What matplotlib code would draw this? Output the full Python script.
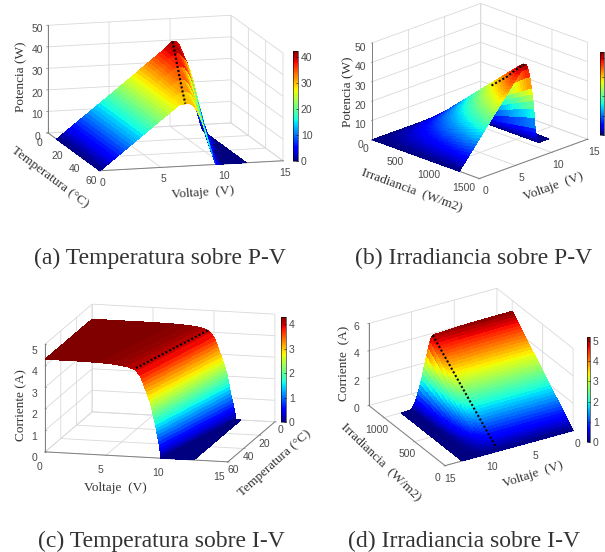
# solar panel surfaces, temperature and irradiance over P-V and I-V
import numpy as np
import matplotlib as mp
mp.use('Agg')
import matplotlib.pyplot as plt
from matplotlib.cm import ScalarMappable
from matplotlib.colors import Normalize

W, H = 605, 552

## (a) P-V against temperature, the rising part is the same for all rows
v_low = [0, .25, .5, .75, 1, 1.25, 1.5, 1.75, 2, 2.25, 2.5, 2.75, 3, 3.25, 3.5, 3.75, 4, 4.25, 4.5, 4.75, 5, 5.25, 5.5, 5.75, 6, 6.25, 6.5]
p_low = [0, 1.1, 2.2, 3.3, 4.4, 5.5, 6.6, 7.7, 8.8, 9.9, 11, 12.1, 13.2, 14.3, 15.4, 16.5, 17.6, 18.7, 19.8, 20.9, 22, 23.1, 24.2, 25.3, 26.4, 27.5, 28.6]
v_knee = [6.75, 7, 7.25, 7.5, 7.75, 8, 8.25, 8.5, 8.75, 9, 9.25, 9.5, 9.75, 10, 10.25, 10.5, 10.75, 11, 11.25, 11.5, 11.75, 12]
p_t10 = [29.9, 31, 32.1, 33.2, 34.3, 35.4, 36.5, 37.6, 38.8, 40.2, 41.6, 42.5, 42.3, 41, 38, 34, 28.5, 22, 15.5, 9, 4, 0]
p_t20 = [29.8, 30.9, 32, 33, 34, 35, 36, 37.2, 38.4, 39.3, 39.7, 38.5, 37, 35, 31, 26, 20.5, 14, 8.5, 3, 0, 0]
p_t30 = [29.6, 30.6, 31.6, 32.6, 33.6, 34.6, 35.6, 36.5, 36.6, 35.8, 34, 31, 27.5, 23, 18, 13, 7.5, 2, 0, 0, 0, 0]
p_t40 = [29.2, 30.2, 31.2, 32.2, 33, 33.5, 33.5, 32.5, 30.3, 27, 23.5, 19, 14.5, 9, 4.5, 0, 0, 0, 0, 0, 0, 0]
p_t50 = [28.9, 29.8, 30.5, 31, 31.1, 30.5, 28.7, 26, 22.8, 19, 15, 10, 5, 0, 0, 0, 0, 0, 0, 0, 0, 0]
p_t60 = [28.5, 29, 29, 28.6, 27.3, 25, 22, 18, 13.5, 8, 4, 0, 0, 0, 0, 0, 0, 0, 0, 0, 0, 0]
t_a = [10, 20, 30, 40, 50, 60]
mpp_v_a = [9.5, 9, 8.5, 8, 7.5, 7]
mpp_p_a = [42.5, 39.5, 36.5, 33.5, 31, 29]

## (b) P-V against irradiance
v_b = [0, .25, .5, .75, 1, 1.25, 1.5, 1.75, 2, 2.25, 2.5, 2.75, 3, 3.25, 3.5, 3.75, 4, 4.25, 4.5, 4.75, 5, 5.25, 5.5, 5.75, 6, 6.25, 6.5, 6.75, 7, 7.25, 7.5, 7.75, 8, 8.25, 8.5, 8.75, 9,
       9.25, 9.5, 9.75, 10, 10.1, 10.2, 10.3, 10.4, 10.5, 10.6, 10.7, 10.8, 10.9, 11, 11.5, 12, 12.4]
p_b = [0, 1.2, 2.4, 3.5, 4.7, 5.9, 7.1, 8.2, 9.4, 10.6, 11.8, 12.9, 14.1, 15.3, 16.5, 17.6, 18.8, 20, 21.2, 22.3, 23.5, 24.7, 25.9, 27, 28.2, 29.4, 30.6, 31.7, 32.9, 34.1, 35.3, 36.4, 37.6, 38.8, 40, 41.6, 43,
       42.4, 40, 35.5, 29, 26, 22.5, 18.5, 13.5, 8, 5.5, 3.5, 2, .8, 0, 0, 0, 0]
g_b = [0, 30, 60, 90, 120, 150, 180, 210, 240, 270, 300, 330, 360, 390, 420, 450, 480, 510, 540, 570, 600, 630, 660, 690, 720, 750, 780, 810, 840, 870, 900, 930, 960, 990, 1020, 1050, 1080, 1110, 1140, 1170, 1220]
mpp_v_b = [8.6, 8.7, 8.8, 8.9, 9]
mpp_g_b = [800, 900, 1000, 1100, 1220]
mpp_p_b = [27, 30.5, 34, 38.5, 43]

# share of the full row value at each irradiance row, (b) and (d)
frac_rows = [0, .025, .05, .075, .1, .125, .15, .175, .2, .225, .25, .275, .3, .325, .35, .375, .4, .425, .45, .475, .5, .525, .55, .575, .6, .625, .65, .675, .7, .725, .75, .775, .8, .825, .85, .875, .9, .925, .95, .975, 1]

## (c) I-V against temperature, one voltage pair for each current level
i_c = [4.3, 4.3, 4.28, 4.25, 4.2, 4.15, 4.07, 3.95, 3.8, 3.65, 3.5, 3.35, 3.2, 3.05, 2.9, 2.75, 2.6, 2.45, 2.3, 2.15, 2, 1.85, 1.7, 1.55, 1.4, 1.25, 1.1, .95, .8, .65, .5, .35, .2, .1, 0, 0]
v_t0 = [0, 5, 7, 8, 8.7, 9.1, 9.5, 9.75, 9.95, 10.1, 10.2, 10.3, 10.4, 10.5, 10.6, 10.7, 10.8, 10.87, 10.95, 11.02, 11.1, 11.15, 11.2, 11.25, 11.3, 11.35, 11.4, 11.47, 11.55, 11.6, 11.65, 11.7, 11.75, 11.78, 11.8, 12.2]
v_t60 = [0, 3, 4.5, 5.5, 6.3, 6.8, 7.3, 7.55, 7.75, 7.9, 8, 8.1, 8.2, 8.3, 8.4, 8.5, 8.6, 8.68, 8.75, 8.8, 8.85, 8.92, 9, 9.05, 9.1, 9.15, 9.2, 9.25, 9.3, 9.35, 9.4, 9.43, 9.45, 9.48, 9.5, 12.2]
t_c = [0, 60]
mpp_v_c = [9.5, 7.3]
mpp_i_c = [4.07, 4.07]

## (d) I-V against irradiance
v_d = [0, 2, 4, 6, 7, 8, 8.5, 9, 9.3, 9.45, 9.6, 9.8, 10, 10.15, 10.3, 10.45, 10.6, 10.75, 10.9, 11.05, 11.2, 11.35, 11.5, 11.65, 11.8, 12, 13]
i_d = [5.2, 5.2, 5.18, 5.16, 5.13, 5.1, 5.08, 5.07, 5.05, 4.95, 4.7, 4.25, 3.7, 3.3, 2.9, 2.5, 2.1, 1.75, 1.4, 1.1, .8, .55, .35, .2, .08, 0, 0]
g_d = [0, 25, 50, 75, 100, 125, 150, 175, 200, 225, 250, 275, 300, 325, 350, 375, 400, 425, 450, 475, 500, 525, 550, 575, 600, 625, 650, 675, 700, 725, 750, 775, 800, 825, 850, 875, 900, 925, 950, 975, 1000]
mpp_v_d = [9.3, 9.2, 9.1, 9, 8.9, 8.8]
mpp_g_d = [1000, 800, 600, 400, 200, 40]
mpp_i_d = [5.05, 4.04, 3.03, 2.03, 1.02, .2]

captions = ['(a) Temperatura sobre P-V', '(b) Irradiancia sobre P-V',
            '(c) Temperatura sobre I-V', '(d) Irradiancia sobre I-V']

TXT = '#333333'
TICK = '#4a4a4a'
GRID = '#d9d9d9'
SERIF = 'Liberation Serif'
SANS = 'Liberation Sans'


def make_axes(fig, cx, cy, side, elev, azim, box):
    # cx, cy is where the box centre falls, in picture pixels
    left = cx - 0.5135*side
    bottom = (H - cy) - 0.5135*side
    ax = fig.add_axes([left/W, bottom/H, side/W, side/H], projection='3d', proj_type='ortho')
    ax.view_init(elev=elev, azim=azim)
    ax.set_box_aspect(box)
    ax.patch.set_alpha(0)
    ax.computed_zorder = False
    for axis in (ax.xaxis, ax.yaxis, ax.zaxis):
        axis.set_pane_color((1, 1, 1, 0))
        axis.pane.set_edgecolor(GRID)
        axis.line.set_color('#7f7f7f')
        axis.line.set_linewidth(0.7)
        axis._axinfo['grid']['color'] = GRID
        axis._axinfo['grid']['linewidth'] = 0.6
        axis._axinfo['tick']['inward_factor'] = 0.1
        axis._axinfo['tick']['outward_factor'] = 0.0
        axis._axinfo['tick']['linewidth'] = {True: 0.5, False: 0.5}
    ax.tick_params(labelsize=7.5, labelcolor=TICK, color='#7f7f7f', pad=-3)
    return ax


def set_ticks(ax, xl, yl, zl, xt, yt, zt):
    ax.set_xlim(*xl)
    ax.set_ylim(*yl)
    ax.set_zlim(*zl)
    ax.set_xticks(xt)
    ax.set_yticks(yt)
    ax.set_zticks(zt)
    for lab in ax.get_xticklabels() + ax.get_yticklabels() + ax.get_zticklabels():
        lab.set_fontfamily(SANS)


def surf(ax, X, Y, Z, vmax):
    ax.plot_surface(X, Y, Z, cmap='jet', vmin=0, vmax=vmax, rstride=1, cstride=1,
                    linewidth=0, antialiased=False, shade=False, zorder=2)


def mpp(ax, x, y, z):
    ax.plot(x, y, z, color='k', lw=1.5, ls=(0, (1, 1)), zorder=3)


def cbar(fig, x0, x1, y0, y1, vmax, ticks, labels=True):
    cax = fig.add_axes([x0/W, (H-y1)/H, (x1-x0)/W, (y1-y0)/H])
    cb = fig.colorbar(ScalarMappable(Normalize(0, vmax), 'jet'), cax=cax)
    cb.set_ticks(ticks)
    cb.outline.set_linewidth(0.4)
    cax.tick_params(length=1.5, width=0.4, direction='in', labelsize=7.5, labelcolor=TICK, pad=2)
    if labels:
        for lab in cax.get_yticklabels():
            lab.set_fontfamily(SANS)
    else:
        cax.set_yticklabels([])


def label(fig, x, y, s, size=9.5, rot=0):
    fig.text(x/W, 1 - y/H, s, family=SERIF, fontsize=size, color=TXT, rotation=rot,
             rotation_mode='anchor', ha='center', va='center')


fig = plt.figure(figsize=(W/100, H/100), dpi=100, facecolor='white')

# (a)
ax = make_axes(fig, 165.5, 93, 286, 11.5, -105.3, (190, 197, 110))
set_ticks(ax, (0, 15), (60, 0), (0, 50), [0, 5, 10, 15], [0, 20, 40, 60], [0, 10, 20, 30, 40, 50])
X, Y = np.meshgrid(v_low + v_knee, t_a)
Z = np.array([p_low + row for row in (p_t10, p_t20, p_t30, p_t40, p_t50, p_t60)])
surf(ax, X, Y, Z, 42.5)
mpp(ax, mpp_v_a, t_a, mpp_p_a)
cbar(fig, 293, 298, 51, 161, 42.5, [0, 10, 20, 30, 40])
label(fig, 21, 77, 'Potencia (W)', rot=90)
label(fig, 50, 177, 'Temperatura (°C)', rot=-37)
label(fig, 203, 193, 'Voltaje  (V)', rot=4)

# (b)
ax = make_axes(fig, 480, 91, 232, 21.3, -135, (153, 151, 104))
set_ticks(ax, (0, 15), (1500, 0), (0, 50), [0, 5, 10, 15], [0, 500, 1000, 1500], [0, 10, 20, 30, 40, 50])
ax.tick_params(axis='y', pad=-5)
for lab in ax.get_yticklabels():
    lab.set_ha('right')
X, Y = np.meshgrid(v_b, g_b)
surf(ax, X, Y, np.outer(frac_rows, p_b), 43)
mpp(ax, mpp_v_b, mpp_g_b, mpp_p_b)
cbar(fig, 600, 604, 52, 135, 43, [0, 10, 20, 30, 40], labels=False)
label(fig, 348, 92, 'Potencia (W)', rot=90)
label(fig, 412, 190, 'Irradiancia  (W/m2)', rot=-20)
label(fig, 553, 187, 'Voltaje  (V)', rot=20)

# (c)
ax = make_axes(fig, 160, 383, 282, 12.45, -75.8, (189, 192, 110.6))
set_ticks(ax, (0, 15), (60, 0), (0, 5), [0, 5, 10, 15], [0, 20, 40, 60], [0, 1, 2, 3, 4, 5])
ax.tick_params(axis='x', pad=-1)
ax.tick_params(axis='y', pad=-5)
for lab in ax.get_xticklabels():
    lab.set_ha('right')
ax.zaxis.set_ticks_position('upper')
X = np.array([v_t0, v_t60])
Y = np.array([[t_c[0]]*len(v_t0), [t_c[1]]*len(v_t60)])
surf(ax, X, Y, np.array([i_c, i_c]), 4.3)
mpp(ax, mpp_v_c, t_c, mpp_i_c)
cbar(fig, 281, 286, 317, 422, 4.3, [0, 1, 2, 3, 4])
label(fig, 21, 405, 'Corriente (A)', rot=90)
label(fig, 115, 488, 'Voltaje  (V)')
label(fig, 275, 463, 'Temperatura (°C)', rot=42)

# (d)
ax = make_axes(fig, 471, 377, 224, 27.7, 59.5, (148.5, 150, 92.6))
set_ticks(ax, (0, 15), (1250, 0), (0, 6), [0, 5, 10, 15], [0, 500, 1000], [0, 2, 4, 6])
X, Y = np.meshgrid(v_d, g_d)
surf(ax, X, Y, np.outer(frac_rows, i_d), 5.2)
mpp(ax, mpp_v_d, mpp_g_d, mpp_i_d)
cbar(fig, 587, 590, 337, 442, 5.2, [0, 1, 2, 3, 4, 5])
label(fig, 344, 363, 'Corriente  (A)', rot=90)
label(fig, 381, 462, 'Irradiancia  (W/m2)', rot=-44)
label(fig, 533, 475, 'Voltaje  (V)', rot=18)

for (x, y), s in zip([(160, 258), (474, 258), (161, 541), (464, 541)], captions):
    label(fig, x, y, s, size=17)

fig.savefig('out.png', dpi=100)
